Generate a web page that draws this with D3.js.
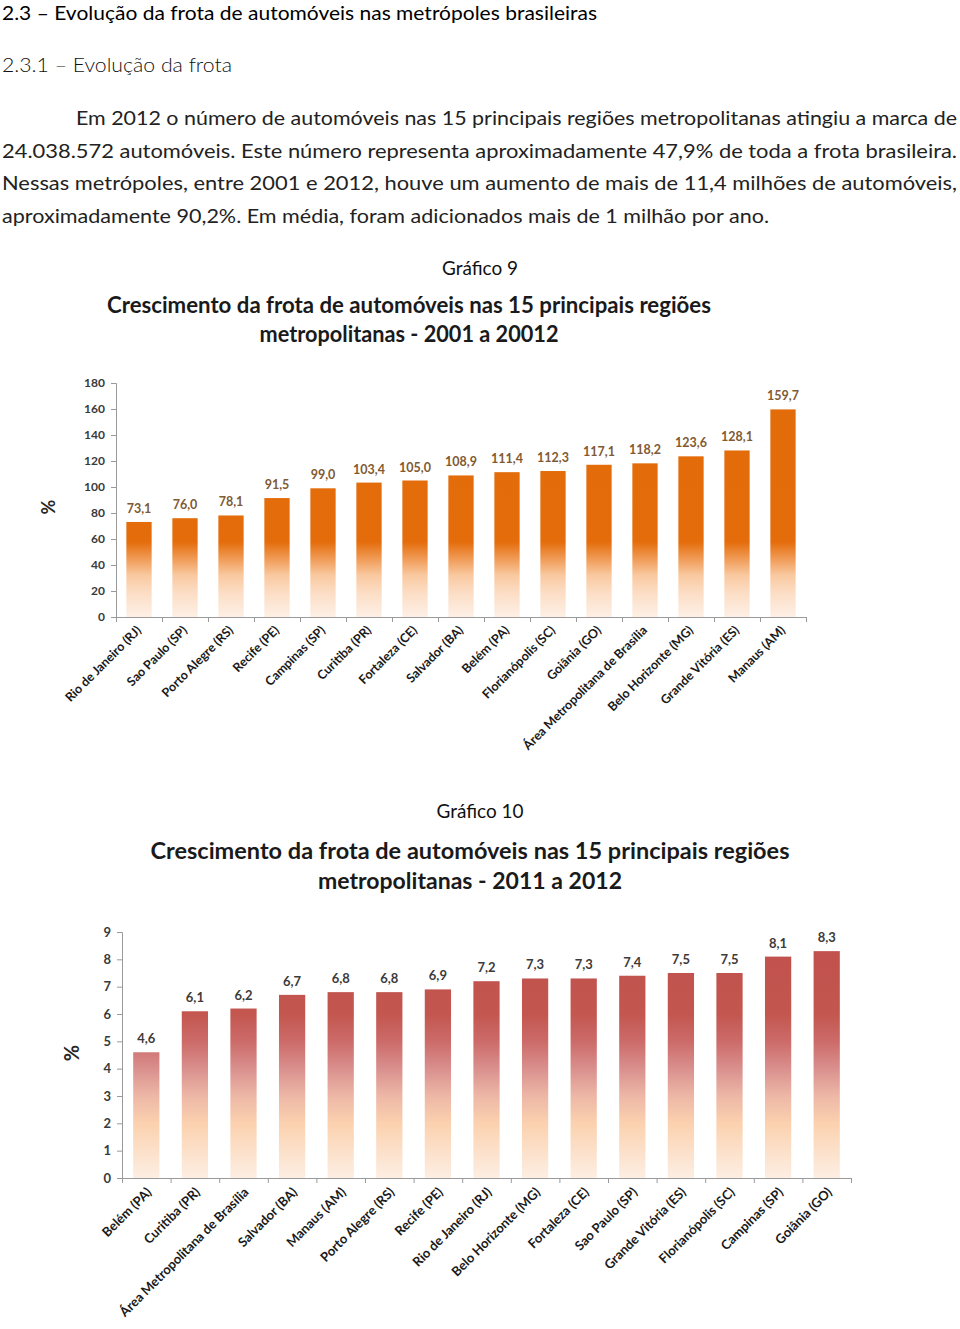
<!DOCTYPE html>
<html><head><meta charset="utf-8">
<script src="https://cdn.jsdelivr.net/npm/d3@7"></script>
<style>
html,body{margin:0;padding:0;background:#fff;}
svg{display:block;font-family:Lato,"Open Sans",sans-serif;}
</style></head>
<body>
<svg id="page" width="960" height="1329"></svg>
<script>
// ---------- data ----------
const cities1 = ["Rio de Janeiro (RJ)","Sao Paulo (SP)","Porto Alegre (RS)","Recife (PE)","Campinas (SP)","Curitiba (PR)","Fortaleza (CE)","Salvador (BA)","Belém (PA)","Florianópolis (SC)","Goiânia (GO)","Área Metropolitana de Brasília","Belo Horizonte (MG)","Grande Vitória (ES)","Manaus (AM)"];
const growth1 = [73.1,76.0,78.1,91.5,99.0,103.4,105.0,108.9,111.4,112.3,117.1,118.2,123.6,128.1,159.7];
const ticks1 = [0,20,40,60,80,100,120,140,160,180];

const cities2 = ["Belém (PA)","Curitiba (PR)","Área Metropolitana de Brasília","Salvador (BA)","Manaus (AM)","Porto Alegre (RS)","Recife (PE)","Rio de Janeiro (RJ)","Belo Horizonte (MG)","Fortaleza (CE)","Sao Paulo (SP)","Grande Vitória (ES)","Florianópolis (SC)","Campinas (SP)","Goiânia (GO)"];
const growth2 = [4.6,6.1,6.2,6.7,6.8,6.8,6.9,7.2,7.3,7.3,7.4,7.5,7.5,8.1,8.3];
const ticks2 = [0,1,2,3,4,5,6,7,8,9];

const heading = "2.3 – Evolução da frota de automóveis nas metrópoles brasileiras";
const subheading = "2.3.1 – Evolução da frota";
const paragraph = [
  "Em 2012 o número de automóveis nas 15 principais regiões metropolitanas atingiu a marca de",
  "24.038.572 automóveis. Este número representa aproximadamente 47,9% de toda a frota brasileira.",
  "Nessas metrópoles, entre 2001 e 2012, houve um aumento de mais de 11,4 milhões de automóveis,",
  "aproximadamente 90,2%. Em média, foram adicionados mais de 1 milhão por ano."
];
const title1 = ["Crescimento da frota de automóveis nas 15 principais regiões","metropolitanas - 2001 a 20012"];
const title2 = ["Crescimento da frota de automóveis nas 15 principais regiões","metropolitanas - 2011 a 2012"];

// ---------- page text ----------
const svg = d3.select("#page");
const fmt = v => d3.format(".1f")(v).replace(".", ",");

svg.append("text").attr("x",2).attr("y",20).attr("font-size",20).attr("fill","#000")
  .attr("textLength",595).attr("lengthAdjust","spacingAndGlyphs").text(heading);
svg.append("text").attr("x",2).attr("y",72).attr("font-size",20).attr("font-weight",300).attr("fill","#111")
  .attr("textLength",230).attr("lengthAdjust","spacingAndGlyphs").text(subheading);

const paraLayout = [{x:76,y:125,w:881},{x:2,y:158,w:955},{x:2,y:190,w:955},{x:2,y:223,w:767}];
paragraph.forEach((t,i)=>{
  const L = paraLayout[i];
  svg.append("text").attr("x",L.x).attr("y",L.y).attr("font-size",20).attr("font-weight",400).attr("fill","#222")
    .attr("textLength",L.w).attr("lengthAdjust","spacingAndGlyphs").text(t);
});

function chart(cfg){
  const g = svg.append("g");
  g.append("text").attr("x",480).attr("y",cfg.capY).attr("text-anchor","middle").attr("font-size",20)
    .attr("fill","#111").attr("textLength",cfg.capW).attr("lengthAdjust","spacingAndGlyphs").text(cfg.caption);
  cfg.title.forEach((t,i)=>{
    g.append("text").attr("x",cfg.titleX).attr("y",cfg.titleY[i]).attr("text-anchor","middle")
      .attr("font-size",cfg.titleSize).attr("font-weight",700).attr("fill","#1a1a1a")
      .attr("textLength",cfg.titleW[i]).attr("lengthAdjust","spacingAndGlyphs").text(t);
  });

  const x = d3.scaleBand().domain(cfg.cats).range([cfg.x0,cfg.x1]).paddingInner(cfg.pad).paddingOuter(cfg.pad/2);
  const xi = d3.scaleLinear().domain([0,cfg.cats.length]).range([cfg.x0,cfg.x1]);
  const y = d3.scaleLinear().domain([0,cfg.ymax]).range([cfg.y0,cfg.y1]);

  // gradient
  const gid = "grad"+cfg.id;
  const grad = svg.append("defs").append("linearGradient").attr("id",gid)
    .attr("gradientUnits","userSpaceOnUse").attr("x1",0).attr("x2",0)
    .attr("y1",y(0)).attr("y2",y(cfg.ymax));
  cfg.stops.forEach(s=>grad.append("stop").attr("offset",s[0]/cfg.ymax).attr("stop-color",s[1]));

  // y axis
  const ya = g.append("g").attr("transform",`translate(${cfg.x0},0)`)
    .call(d3.axisLeft(y).tickValues(cfg.ticks).tickSize(5).tickPadding(6).tickFormat(d3.format("d")));
  ya.select(".domain").attr("stroke","#9a9a9a");
  ya.selectAll(".tick line").attr("stroke","#9a9a9a");
  ya.selectAll(".tick text").attr("font-family","Lato,sans-serif").attr("font-size",cfg.tickSize)
    .attr("font-weight",700).attr("fill","#3a3a3a");

  // x axis (boundary ticks)
  const xa = g.append("g").attr("transform",`translate(0,${cfg.y0})`)
    .call(d3.axisBottom(xi).ticks(cfg.cats.length).tickSize(5).tickFormat(""));
  xa.select(".domain").attr("stroke","#9a9a9a");
  xa.selectAll(".tick line").attr("stroke","#9a9a9a");

  // bars
  g.selectAll("rect.bar").data(cfg.vals).join("rect").attr("class","bar")
    .attr("x",(d,i)=>x(cfg.cats[i])).attr("width",x.bandwidth())
    .attr("y",d=>y(d)).attr("height",d=>y(0)-y(d)).attr("fill",`url(#${gid})`);

  // value labels
  g.selectAll("text.val").data(cfg.vals).join("text").attr("class","val")
    .attr("x",(d,i)=>x(cfg.cats[i])+x.bandwidth()/2).attr("y",d=>y(d)-cfg.valOff)
    .attr("text-anchor","middle").attr("font-size",cfg.valSize).attr("font-weight",700)
    .attr("fill",cfg.valColor).text(fmt);

  // category labels
  g.selectAll("text.cat").data(cfg.cats).join("text").attr("class","cat")
    .attr("transform",d=>`translate(${x(d)+x.bandwidth()/2+cfg.catDx},${cfg.y0+cfg.catDy}) rotate(-45)`)
    .attr("text-anchor","end").attr("font-size",cfg.catSize).attr("font-weight",700).attr("fill","#1a1a1a")
    .text(d=>d);

  // % label
  g.append("text").attr("transform",`translate(${cfg.pctX},${cfg.pctY}) rotate(-90)`)
    .attr("text-anchor","middle").attr("font-size",cfg.pctSize).attr("font-weight",700).attr("fill","#262626").text("%");
}

chart({
  id:1, caption:"Gráfico 9", capY:275, capW:76,
  title:title1, titleX:409, titleY:[313,342], titleSize:22, titleW:[604,299],
  cats:cities1, vals:growth1, ticks:ticks1, ymax:180,
  x0:116, x1:806, y0:617, y1:383, pad:0.45,
  stops:[[0,"#FDF0E6"],[18,"#FCDEC6"],[32,"#F9C9A0"],[45,"#F09A55"],[58,"#E46C0A"],[180,"#E36C0A"]],
  tickSize:12, valSize:12.5, valOff:9, valColor:"#7F5A33",
  catDx:3, catDy:14, catSize:12.5, pctX:55, pctY:507, pctSize:18
});

chart({
  id:2, caption:"Gráfico 10", capY:818, capW:87,
  title:title2, titleX:470, titleY:[859,889], titleSize:23, titleW:[639,304],
  cats:cities2, vals:growth2, ticks:ticks2, ymax:9,
  x0:122, x1:851, y0:1178, y1:932, pad:0.46,
  stops:[[0,"#FDEEE3"],[1,"#FCE0C9"],[2,"#FBD1AF"],[3,"#EDB7A6"],[4,"#D9908E"],[5,"#CC6B69"],[6,"#C3564F"],[9,"#C0504D"]],
  tickSize:13, valSize:13, valOff:9, valColor:"#3d3a3a",
  catDx:6, catDy:15, catSize:13, pctX:79, pctY:1053, pctSize:20
});
</script>
</body></html>
